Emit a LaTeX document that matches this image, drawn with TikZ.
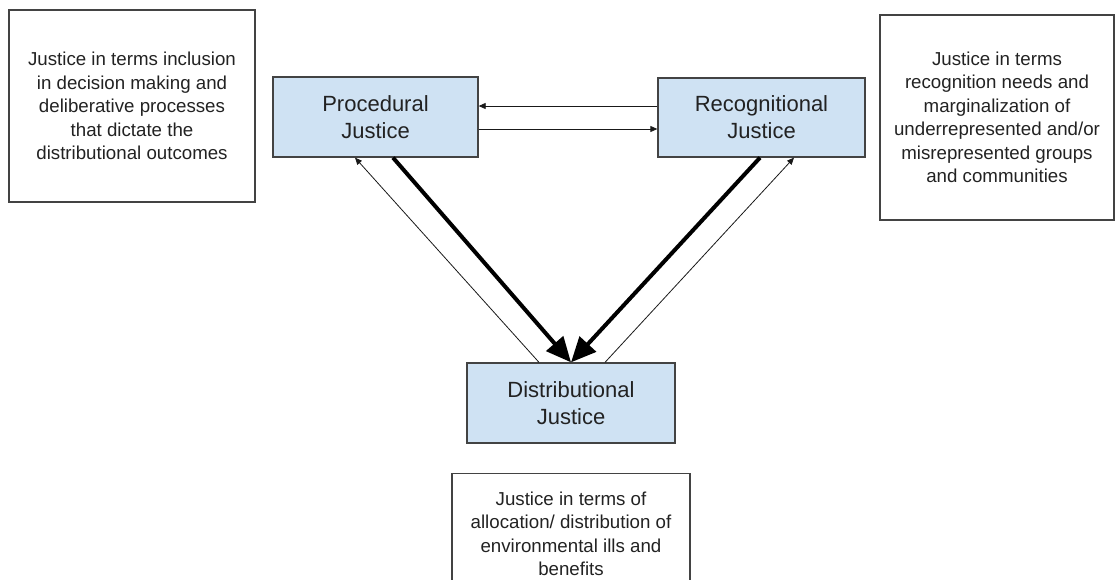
\documentclass[tikz,border=0pt]{standalone}
\usepackage{fontspec}
\setmainfont{Liberation Sans}
\usetikzlibrary{arrows.meta}
\definecolor{boxblue}{HTML}{CFE2F3}
\definecolor{edgegray}{HTML}{434343}
\definecolor{inkgray}{HTML}{222222}

\begin{document}
\begin{tikzpicture}
	[x=1pt, y=-1pt,
	justice/.style={rectangle,draw=edgegray,line width=1.3pt,fill=boxblue,inner sep=0pt,align=center,text=inkgray,font=\fontsize{22}{27}\selectfont},
	note/.style={rectangle,draw=edgegray,line width=1.3pt,inner sep=0pt,align=center,text=inkgray,font=\fontsize{18.7}{23.5}\selectfont},
	weak/.style={draw=black!90,line width=0.8pt,-{Triangle[length=7pt,width=6pt]}},
	strong/.style={draw=black,line width=4pt,-{Triangle[length=25pt,width=22pt]}}]
	\useasboundingbox (0,0) rectangle (1118,579);
	\node (proc) [justice,minimum width=205pt,minimum height=80pt] at (375.5,117) {Procedural\\Justice};
	\node (rec) [justice,minimum width=207pt,minimum height=79pt] at (761.5,117.5) {Recognitional\\Justice};
	\node (dist) [justice,minimum width=208pt,minimum height=80pt] at (571,403) {Distributional\\Justice};
	\node (procnote) [note,minimum width=246pt,minimum height=192pt] at (132,106)
	{Justice in terms inclusion\\in decision making and\\deliberative processes\\that dictate the\\distributional outcomes};
	\node (recnote) [note,minimum width=234pt,minimum height=205pt] at (997,117.5)
	{Justice in terms\\recognition needs and\\marginalization of\\underrepresented and/or\\misrepresented groups\\and communities};
	\node (distnote) [note,anchor=north,minimum width=238pt,minimum height=120pt] at (571,473)
	{Justice in terms of\\allocation/ distribution of\\environmental ills and\\benefits};
	\draw [weak] ([yshift=11.5pt]rec.west) -- ([yshift=11pt]proc.east);
	\draw [weak] ([yshift=-12pt]proc.east) -- ([yshift=-11.5pt]rec.west);
	\draw [weak] ([xshift=-32pt]dist.north) -- ([xshift=-20.5pt]proc.south);
	\draw [weak] ([xshift=34pt]dist.north) -- ([xshift=32.5pt]rec.south);
	\draw [strong] ([xshift=17.5pt]proc.south) -- (dist.north);
	\draw [strong] ([xshift=-1.5pt]rec.south) -- (dist.north);
\end{tikzpicture}
\end{document}
